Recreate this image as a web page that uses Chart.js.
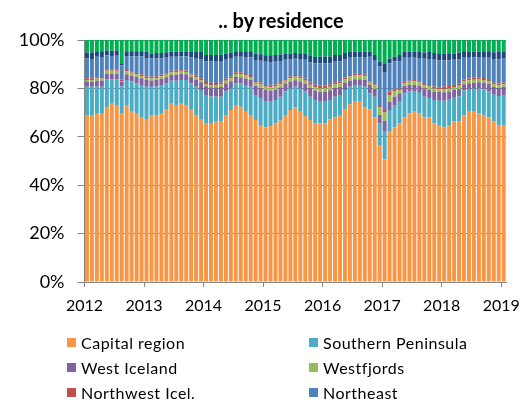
<!DOCTYPE html>
<html>
<head>
<meta charset="utf-8">
<script src="https://cdn.jsdelivr.net/npm/chart.js@4.4.0/dist/chart.umd.min.js"></script>
<style>
  html, body { margin: 0; padding: 0; background: #fff; overflow: hidden; }
  #wrap { position: relative; width: 529px; height: 400px; overflow: hidden; }
  #title { position: absolute; left: 131px; top: 7px; width: 300px; text-align: center;
           font-family: Lato, sans-serif; font-weight: bold; font-size: 20px; line-height: 26px; color: #000; }
  #legend { position: absolute; left: 0; top: 0; font-family: Lato, sans-serif; font-size: 16px;
            letter-spacing: 0.5px; color: #000; }
  .item { position: absolute; display: flex; align-items: center; white-space: nowrap; height: 18px; }
  .box { width: 9px; height: 9px; margin-right: 5px; }
</style>
</head>
<body>
<div id="wrap">
  <canvas id="chart" width="529" height="400"></canvas>
  <div id="title">.. by residence</div>
  <div id="legend"></div>
</div>
<script>
// monthly share by residence, Jan 2012 .. Jan 2019
const firstYear = 2012;

const capital = [
  69.0, 69.0, 69.8, 69.8, 72.3, 74.0, 73.1, 69.8, 73.1, 70.7, 69.8, 68.2,
  67.4, 69.0, 69.0, 69.8, 71.5, 74.0, 73.1, 74.0, 73.1, 71.5, 69.0, 67.4,
  65.7, 65.7, 66.5, 66.5, 69.0, 71.1, 73.1, 72.4, 70.7, 69.0, 66.9, 64.9,
  63.9, 64.5, 65.6, 66.7, 69.0, 71.1, 72.2, 70.4, 68.6, 66.9, 65.6, 65.6,
  65.6, 67.2, 68.0, 69.0, 71.3, 73.5, 74.5, 74.5, 72.2, 71.4, 68.0, 56.6,
  50.7, 62.1, 63.9, 65.6, 68.0, 69.7, 70.4, 69.7, 68.0, 68.0, 65.6, 64.9,
  63.9, 64.9, 66.4, 66.4, 68.9, 70.4, 70.4, 69.7, 68.9, 68.0, 66.4, 64.9,
  64.9
];
const southern = [
  11.7, 11.7, 10.9, 10.9, 11.5, 9.8, 10.7, 11.0, 10.4, 12.1, 12.3, 13.2,
  13.3, 11.7, 11.9, 11.6, 10.6, 9.2, 10.1, 9.5, 10.4, 10.6, 11.7, 11.9,
  11.6, 11.0, 10.1, 10.1, 9.7, 8.9, 9.0, 9.7, 10.7, 11.7, 10.4, 11.1,
  10.6, 10.0, 9.6, 9.9, 9.7, 8.9, 8.5, 9.6, 10.1, 9.7, 9.6, 8.9,
  8.9, 8.0, 8.6, 8.3, 8.0, 7.2, 6.9, 6.9, 8.5, 6.6, 8.6, 9.0,
  11.4, 9.0, 9.2, 8.9, 10.0, 9.0, 8.5, 8.8, 8.5, 8.0, 9.6, 10.0,
  11.0, 10.4, 10.0, 10.4, 10.2, 9.4, 9.6, 10.3, 10.6, 10.8, 11.0, 12.0,
  12.4
];
const westIceland = [
  2.1, 2.0, 2.5, 2.6, 2.2, 2.2, 2.3, 1.8, 2.3, 2.5, 2.7, 2.8,
  2.8, 2.6, 2.6, 2.6, 2.5, 2.3, 2.5, 2.4, 2.3, 2.6, 2.9, 3.2,
  3.6, 3.8, 3.9, 4.0, 3.4, 3.0, 2.6, 2.5, 2.7, 2.9, 3.8, 4.3,
  4.8, 4.6, 4.3, 3.9, 3.3, 2.9, 2.7, 2.9, 3.3, 3.6, 3.9, 4.1,
  4.2, 4.0, 3.7, 3.4, 3.0, 2.6, 2.4, 2.4, 2.8, 3.4, 3.2, 3.4,
  4.5, 3.4, 3.5, 3.5, 3.0, 2.8, 2.5, 2.5, 3.5, 3.5, 3.5, 3.6,
  3.5, 3.4, 3.0, 3.0, 2.6, 2.3, 2.2, 2.5, 2.8, 3.0, 3.2, 3.4,
  3.4
];
const westfjords = [
  0.7, 0.8, 0.8, 0.8, 1.3, 1.3, 1.2, 0.5, 1.2, 1.2, 1.0, 0.9,
  0.8, 0.8, 0.8, 0.9, 1.0, 1.1, 1.0, 1.0, 1.0, 0.9, 0.9, 0.9,
  0.9, 0.9, 0.9, 1.0, 1.1, 1.2, 1.3, 1.3, 1.2, 1.1, 1.2, 1.3,
  1.4, 1.4, 1.3, 1.2, 1.2, 1.3, 1.4, 1.3, 1.2, 1.3, 1.4, 1.5,
  1.5, 1.5, 1.4, 1.4, 1.5, 1.6, 1.7, 1.6, 1.5, 0.9, 1.4, 3.2,
  3.4, 2.8, 2.1, 1.3, 1.2, 1.2, 1.5, 1.4, 1.2, 1.3, 1.3, 1.2,
  1.4, 1.3, 1.2, 1.3, 1.3, 1.3, 1.4, 1.2, 1.2, 1.0, 1.0, 1.0,
  1.0
];
const northwest = [
  0.7, 0.7, 0.6, 0.6, 0.6, 0.6, 0.6, 0.6, 0.6, 0.6, 0.6, 0.7,
  0.7, 0.7, 0.7, 0.7, 0.7, 0.7, 0.7, 0.6, 0.6, 0.7, 0.7, 0.8,
  0.8, 0.9, 0.8, 0.8, 0.8, 0.7, 0.7, 0.7, 0.7, 0.8, 0.8, 0.8,
  0.7, 0.8, 0.8, 0.8, 0.7, 0.7, 0.7, 0.7, 0.8, 0.9, 1.0, 1.0,
  1.0, 0.9, 0.8, 0.8, 0.7, 0.6, 0.6, 0.6, 0.6, 0.5, 0.5, 0.5,
  1.1, 1.4, 0.6, 0.7, 0.5, 0.5, 0.6, 0.6, 0.6, 0.6, 0.8, 0.8,
  1.0, 1.0, 0.8, 0.8, 0.7, 0.7, 0.8, 0.7, 1.2, 0.7, 0.7, 0.7,
  0.7
];
const northeast = [
  8.2, 8.0, 8.5, 8.3, 5.8, 5.5, 5.6, 5.9, 5.8, 6.2, 6.8, 7.4,
  7.6, 7.6, 7.4, 6.8, 6.4, 5.8, 5.7, 5.8, 5.9, 6.6, 7.4, 8.0,
  8.5, 8.8, 8.8, 8.6, 7.8, 7.4, 6.4, 6.5, 7.0, 7.4, 8.6, 9.0,
  9.6, 9.6, 9.4, 8.8, 7.9, 7.2, 6.8, 7.2, 7.8, 8.4, 8.8, 9.2,
  9.1, 8.8, 8.5, 8.2, 7.6, 7.2, 6.8, 6.9, 7.4, 10.3, 9.7, 16.3,
  15.4, 11.7, 11.8, 11.1, 10.0, 9.5, 9.5, 9.6, 10.5, 10.8, 11.0, 11.0,
  10.8, 10.6, 10.4, 10.0, 9.0, 8.6, 8.4, 8.6, 8.3, 9.2, 9.8, 10.0,
  10.2
];
const east = [
  2.4, 2.6, 2.3, 2.4, 2.0, 2.2, 2.3, 0.8, 2.0, 2.1, 2.2, 2.2,
  2.6, 2.0, 2.2, 2.2, 2.2, 2.0, 2.0, 1.9, 1.9, 2.1, 2.4, 2.8,
  2.7, 2.7, 2.8, 2.9, 2.6, 2.5, 2.2, 2.3, 2.3, 2.4, 2.6, 2.7,
  2.7, 2.8, 2.8, 2.7, 2.5, 2.3, 2.3, 2.4, 2.6, 2.6, 2.7, 2.8,
  2.9, 2.8, 2.8, 2.7, 2.5, 2.3, 2.2, 2.3, 2.2, 2.1, 2.4, 2.1,
  3.9, 2.0, 2.0, 2.7, 2.5, 2.5, 2.2, 2.4, 2.5, 2.8, 2.8, 3.0,
  2.8, 2.6, 2.6, 2.8, 2.6, 2.5, 2.4, 2.2, 2.3, 2.6, 2.8, 3.0,
  2.6
];
const south = [
  5.2, 5.2, 4.6, 4.6, 4.3, 4.4, 4.2, 9.6, 4.6, 4.6, 4.6, 4.6,
  4.8, 5.6, 5.4, 5.4, 5.1, 4.9, 4.9, 4.8, 4.8, 5.0, 5.0, 5.0,
  6.2, 6.2, 6.2, 6.1, 5.6, 5.2, 4.7, 4.6, 4.7, 4.7, 5.7, 5.9,
  6.3, 6.3, 6.2, 6.0, 5.7, 5.6, 5.4, 5.5, 5.6, 6.6, 7.0, 6.9,
  6.8, 6.8, 6.2, 6.2, 5.4, 5.0, 4.9, 4.8, 4.8, 4.8, 6.2, 8.9,
  9.6, 7.6, 6.9, 6.2, 4.8, 4.8, 4.8, 5.0, 5.2, 5.0, 5.4, 5.5,
  5.6, 5.8, 5.6, 5.3, 4.7, 4.8, 4.8, 4.8, 4.7, 4.7, 5.1, 5.0,
  4.8
];

const regionNames = ['Capital region', 'Southern Peninsula', 'West Iceland', 'Westfjords',
                     'Northwest Icel.', 'Northeast', 'East', 'South'];
const regionColors = ['#F79646', '#4BACC6', '#8064A2', '#9BBB59',
                      '#C0504D', '#4F81BD', '#1F497D', '#00B050'];
const regionValues = [capital, southern, westIceland, westfjords, northwest, northeast, east, south];

const datasets = regionValues.map((values, k) => ({
    label: regionNames[k],
    data: values.map((v, i) => ({x: i + 0.5, y: v})),
    backgroundColor: regionColors[k],
    borderWidth: 0,
    categoryPercentage: 1,
    barPercentage: 0.8
}));

const font = 'Lato, sans-serif';

new Chart(document.getElementById('chart'), {
    type: 'bar',
    data: {datasets: datasets},
    options: {
        responsive: false,
        animation: false,
        devicePixelRatio: 1,
        layout: {padding: {left: 0, right: 19.5, top: 40, bottom: 82}},
        plugins: {
            legend: {display: false},
            tooltip: {enabled: false}
        },
        scales: {
            x: {
                type: 'linear',
                stacked: true,
                offset: false,
                min: 0,
                max: capital.length,
                afterFit: scale => { scale.height = 36; },
                ticks: {
                    stepSize: 12,
                    includeBounds: false,
                    autoSkip: false,
                    maxRotation: 0,
                    padding: 9,
                    color: '#000',
                    font: {family: font, size: 16},
                    callback: v => String(firstYear + v / 12)
                },
                grid: {drawOnChartArea: false, offset: false, tickLength: 5, color: '#868686'},
                border: {color: '#868686'}
            },
            y: {
                stacked: true,
                min: 0,
                max: 100,
                afterFit: scale => { scale.width = 84.5; },
                ticks: {
                    stepSize: 20,
                    padding: 13,
                    color: '#000',
                    font: {family: font, size: 18},
                    callback: v => v + '%'
                },
                grid: {color: '#868686', tickLength: 7},
                border: {color: '#868686'}
            }
        }
    }
});

// legend in two columns, as in the original (rows past the bottom are cut off)
const legend = document.getElementById('legend');
const colX = [67, 309];
const rowY = [342, 367, 392, 417];
regionNames.forEach((name, k) => {
    const item = document.createElement('div');
    item.className = 'item';
    item.style.left = colX[k % 2] + 'px';
    item.style.top = (rowY[Math.floor(k / 2)] - 9) + 'px';
    item.innerHTML = '<span class="box" style="background:' + regionColors[k] + '"></span>' + name;
    legend.appendChild(item);
});
</script>
</body>
</html>
